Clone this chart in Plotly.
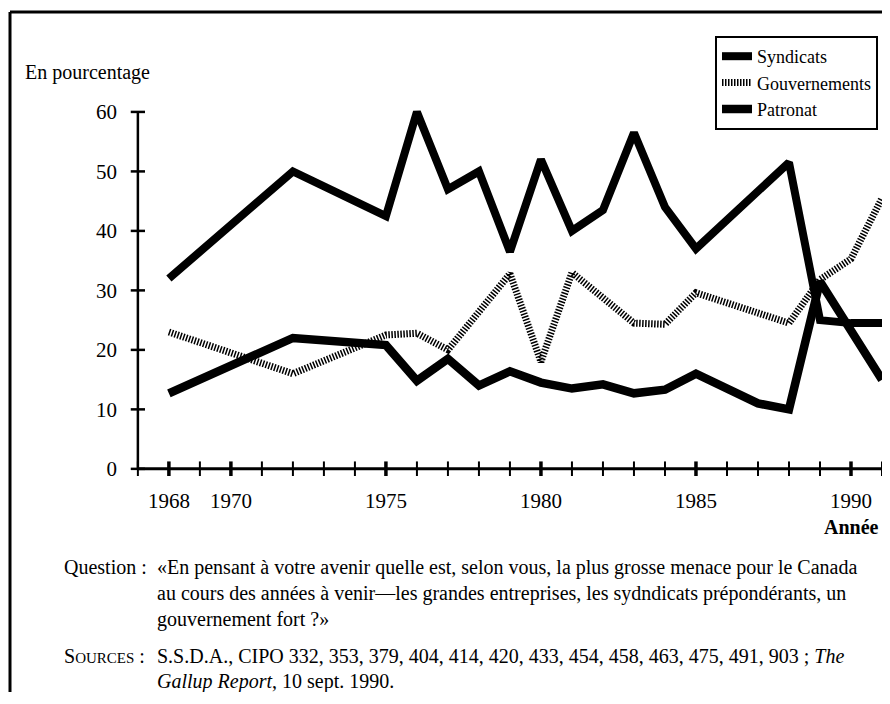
import plotly.graph_objects as go

# ---------------- data ----------------
years = [1968, 1972, 1975, 1976, 1977, 1978, 1979, 1980, 1981, 1982, 1983,
         1984, 1985, 1987, 1988, 1989, 1990, 1991]
syndicats = [32, 50, 42.5, 60, 47, 50, 36.5, 52, 40, 43.5, 56.5,
             44, 37, None, 51.5, 25, 24.5, 24.5]
gouvernements = [23, 16, 22.5, 22.8, 20, None, 32.8, 18, 33, None, 24.5,
                 24.3, 29.6, None, 24.5, 31.8, 35.3, 45.5]
patronat = [12.7, 22, 20.8, 14.8, 18.5, 14, 16.4, 14.5, 13.5, 14.2, 12.7,
            13.3, 16, 11, 10, 31.5, None, 15]

x_labels = [1968, 1970, 1975, 1980, 1985, 1990]
x_minor = list(range(1968, 1992))
y_ticks = [0, 10, 20, 30, 40, 50, 60]

# ---------------- layout geometry ----------------
# the page body has an 8px margin, so the figure is placed 8px right/down
OFF = 8
W_FIG, H_FIG = 890 - 2 * OFF, 684
L, R, T = 115, 0, 103 - OFF
B = H_FIG - (476 - OFF)
PW = W_FIG - L - R
PH = H_FIG - T - B
X_RANGE = [1966.52, 1991.0]
Y_RANGE = [-1.2, 61.5]
Y_AXIS_X = 1967.0
FONT = "Liberation Serif"


def px_x(x):
    """reference page pixel -> paper x"""
    return (x - OFF - L) / PW


def px_y(y):
    """reference page pixel -> paper y"""
    return (H_FIG - B - (y - OFF)) / PH


fig = go.Figure()

fig.add_trace(go.Scatter(x=years, y=syndicats, name="Syndicats", mode="lines",
                         connectgaps=True,
                         line=dict(color="black", width=8)))
fig.add_trace(go.Scatter(x=years, y=gouvernements, name="Gouvernements", mode="lines",
                         connectgaps=True,
                         line=dict(color="black", width=7, dash="1.5px,1.5px")))
fig.add_trace(go.Scatter(x=years, y=patronat, name="Patronat", mode="lines",
                         connectgaps=True,
                         line=dict(color="black", width=8.5)))

shapes = []
# axes lines
shapes.append(dict(type="line", xref="x", yref="y", x0=Y_AXIS_X, x1=1991, y0=0, y1=0,
                   line=dict(color="black", width=3)))
shapes.append(dict(type="line", xref="x", yref="y", x0=Y_AXIS_X, x1=Y_AXIS_X, y0=0, y1=60,
                   line=dict(color="black", width=2.5)))
# x ticks crossing the axis
for yr in x_minor:
    major = yr in x_labels
    shapes.append(dict(type="line", xref="x", yref="y", x0=yr, x1=yr,
                       y0=-1.25, y1=1.25,
                       line=dict(color="black", width=3.5 if major else 2)))
shapes.append(dict(type="line", xref="x", yref="y", x0=Y_AXIS_X, x1=Y_AXIS_X,
                   y0=-1.25, y1=1.25, line=dict(color="black", width=2)))
# y ticks crossing the axis
for v in y_ticks:
    shapes.append(dict(type="line", xref="x", yref="y", x0=Y_AXIS_X - 0.23,
                       x1=Y_AXIS_X + 0.23, y0=v, y1=v,
                       line=dict(color="black", width=2.5)))
# page frame (top and left)
shapes.append(dict(type="line", xref="paper", yref="paper",
                   x0=px_x(10), x1=px_x(892), y0=px_y(12), y1=px_y(12),
                   line=dict(color="black", width=3)))
shapes.append(dict(type="line", xref="paper", yref="paper",
                   x0=px_x(10), x1=px_x(10), y0=px_y(12), y1=px_y(706),
                   line=dict(color="black", width=3)))

annotations = []


def txt(text, x, y, xanchor="left", size=20, **kw):
    annotations.append(dict(text=text, x=px_x(x), y=px_y(y), xref="paper", yref="paper",
                            xanchor=xanchor, yanchor="middle", showarrow=False,
                            font=dict(family=FONT, size=size, color="black"), **kw))


txt("En pourcentage", 23, 73)
txt("<b>Année</b>", 881, 527, xanchor="right")
txt("Question :", 62, 567)
txt("«En pensant à votre avenir quelle est, selon vous, la plus grosse menace pour le Canada",
    155, 567)
txt("au cours des années à venir—les grandes entreprises, les sydndicats prépondérants, un",
    155, 593)
txt("gouvernement fort ?»", 155, 619)
txt("S<span style='font-size:15px'>OURCES</span> :", 62, 656)
txt("S.S.D.A., CIPO 332, 353, 379, 404, 414, 420, 433, 454, 458, 463, 475, 491, 903 ; <i>The</i>",
    155, 656)
txt("<i>Gallup Report</i>, 10 sept. 1990.", 155, 681)

fig.update_layout(
    width=W_FIG, height=H_FIG,
    margin=dict(l=L, r=R, t=T, b=B, pad=0, autoexpand=False),
    paper_bgcolor="white", plot_bgcolor="white",
    font=dict(family=FONT, size=20, color="black"),
    showlegend=True,
    legend=dict(xref="container", yref="container",
                x=(715 - OFF) / W_FIG, y=1 - (36 - OFF) / H_FIG,
                xanchor="left", yanchor="top",
                bordercolor="black", borderwidth=2, bgcolor="white",
                font=dict(family=FONT, size=18, color="black"),
                traceorder="normal", itemwidth=30, tracegroupgap=5),
    xaxis=dict(range=X_RANGE, showgrid=False, zeroline=False, showline=False,
               tickmode="array", tickvals=x_labels, ticktext=[str(v) for v in x_labels],
               ticks="", ticklabelstandoff=10,
               tickfont=dict(family=FONT, size=21, color="black")),
    yaxis=dict(range=Y_RANGE, showgrid=False, zeroline=False, showline=False,
               tickmode="array", tickvals=y_ticks, ticks="", ticklabelstandoff=5,
               tickfont=dict(family=FONT, size=21, color="black")),
    shapes=shapes,
    annotations=annotations,
)

fig.write_html("out.html")
